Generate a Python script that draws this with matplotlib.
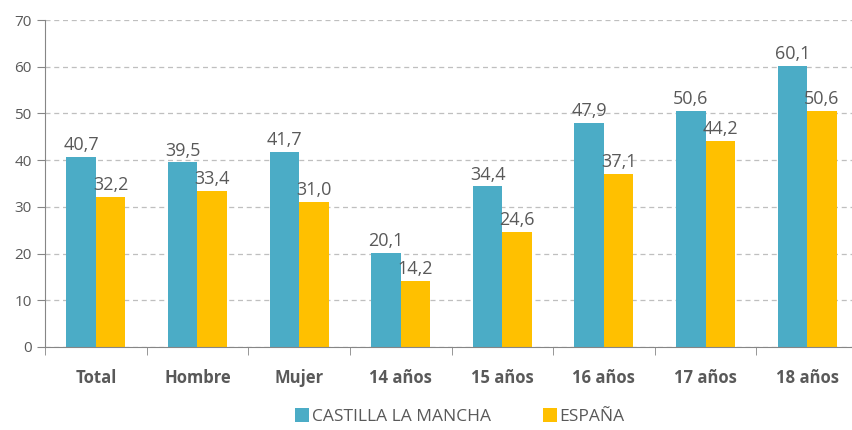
import numpy as np
import matplotlib.pyplot as plt
from matplotlib.ticker import FixedLocator

categories = ['Total', 'Hombre', 'Mujer', '14 años', '15 años', '16 años', '17 años', '18 años']
clm = [40.7, 39.5, 41.7, 20.1, 34.4, 47.9, 50.6, 60.1]
espana = [32.2, 33.4, 31.0, 14.2, 24.6, 37.1, 44.2, 50.6]
series_names = ['CASTILLA LA MANCHA', 'ESPAÑA']

plt.rcParams['font.family'] = ['Open Sans', 'DejaVu Sans']
text_col = '#595959'

fig = plt.figure(figsize=(8.52, 4.30), dpi=100)
ax = fig.add_axes([45/852, 83/430, 813/852, 327/430])

x = np.arange(len(categories))
w = 0.29
b1 = ax.bar(x - w/2, clm, w, color='#4BACC6', label=series_names[0])
b2 = ax.bar(x + w/2, espana, w, color='#FFC000', label=series_names[1])

for bars, vals in ((b1, clm), (b2, espana)):
    for r, v in zip(bars, vals):
        ax.annotate(f'{v:.1f}'.replace('.', ','), (r.get_x() + r.get_width()/2, v),
                    xytext=(0, 2), textcoords='offset points', ha='center', va='bottom',
                    fontsize=13, color=text_col)

ax.set_xlim(-0.5, len(categories) - 0.5)
ax.set_ylim(0, 70)
ax.set_yticks(range(0, 71, 10))
ax.yaxis.grid(True, linestyle=(0, (4, 3)), color='#bfbfbf', linewidth=0.9)
ax.set_axisbelow(True)

ax.set_xticks(x)
ax.set_xticklabels(categories, fontsize=12, fontweight='bold', color=text_col)
ax.xaxis.set_minor_locator(FixedLocator(np.arange(-0.5, len(categories), 1)))
ax.tick_params(axis='x', which='major', length=0, pad=16)
ax.tick_params(axis='x', which='minor', length=6, color='#868686')
ax.tick_params(axis='y', length=6, color='#868686', labelsize=11, labelcolor=text_col)

for s in ['top', 'right']:
    ax.spines[s].set_visible(False)
for s in ['left', 'bottom']:
    ax.spines[s].set_color('#868686')

fig.legend(handles=[b1, b2], loc='lower center', bbox_to_anchor=(0.54, -0.025), ncol=2,
           frameon=False, fontsize=12.5, handlelength=0.8, handleheight=0.8,
           columnspacing=3.0, handletextpad=0.15, labelcolor=text_col)

fig.savefig('out.png', dpi=100)
